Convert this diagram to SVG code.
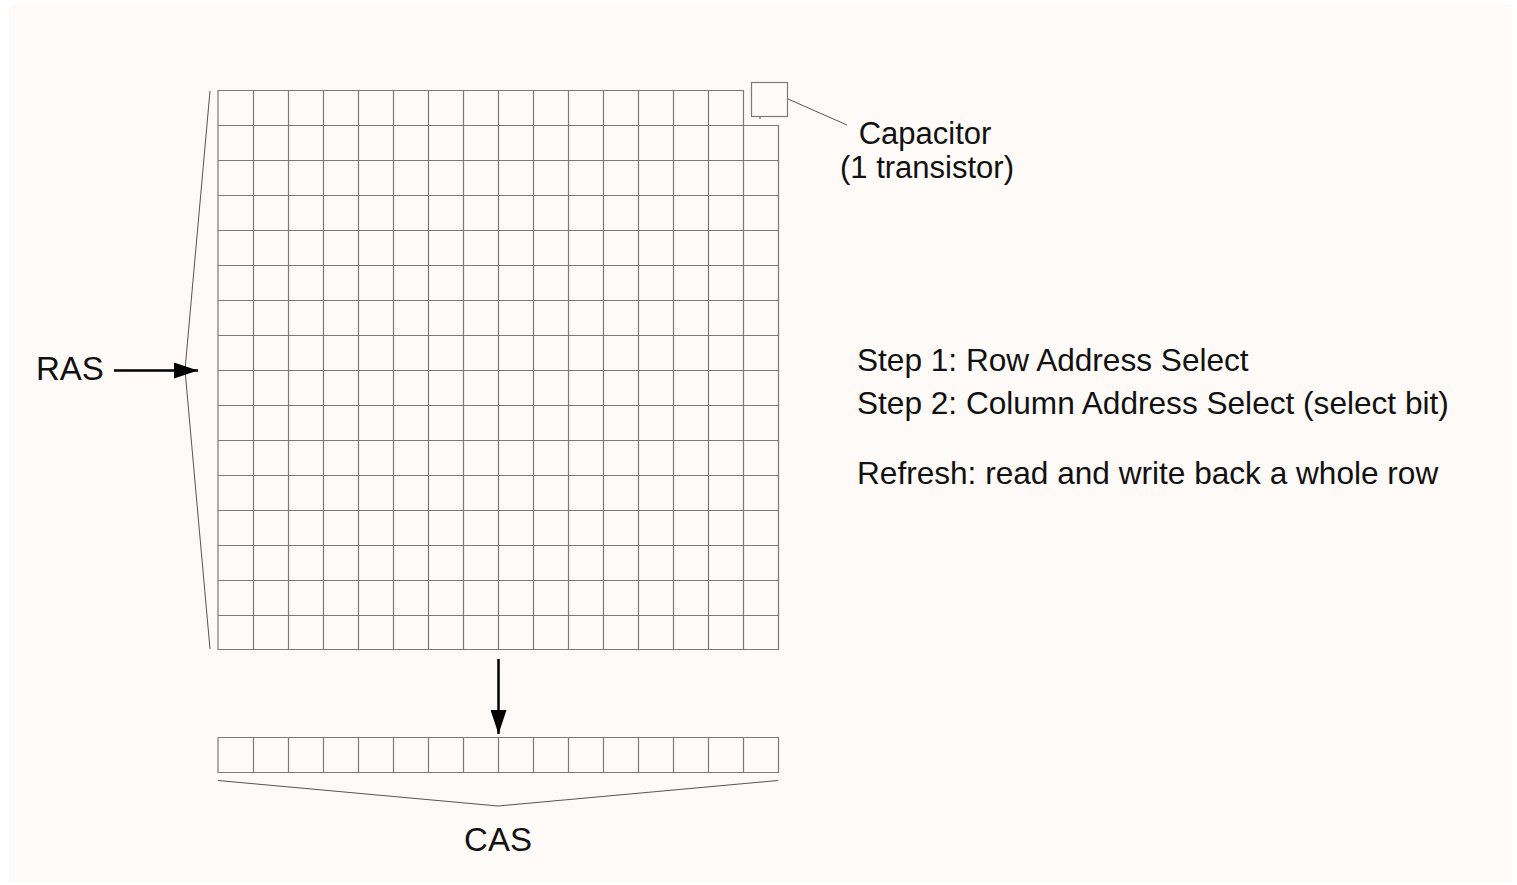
<svg xmlns="http://www.w3.org/2000/svg" width="1517" height="885" viewBox="0 0 1517 885">
<defs>
<style>
.grid{fill:none;stroke:#7a7a7a;stroke-width:1.2}
.thin{fill:none;stroke:#555;stroke-width:1}
.arr{fill:none;stroke:#000;stroke-width:2.5}
.t{font-family:"Liberation Sans",Arial,sans-serif;font-size:31px;fill:#111}
.s{font-size:31.6px}
.big{font-size:33px}
</style>
<marker id="ah2" viewBox="0 0 24 16" refX="24" refY="8" markerWidth="24" markerHeight="16" orient="auto" markerUnits="userSpaceOnUse">
<path d="M0,0 L24,8 L0,16 Z" fill="#000"/>
</marker>
</defs>
<rect x="0" y="0" width="1517" height="885" fill="#ffffff"/>
<rect x="9" y="5" width="1503" height="877" fill="#fefaf8"/>
<g id="memory-array">
<path class="grid" d="M218,90.5H743.5V125.5H778.5V649.5H218Z"/>
<path class="grid" d="M218,125.5H743.5M218,160.5H778.5M218,195.5H778.5M218,230.5H778.5M218,265.5H778.5M218,300.5H778.5M218,335.5H778.5M218,370.5H778.5M218,405.5H778.5M218,440.5H778.5M218,475.5H778.5M218,510.5H778.5M218,545.5H778.5M218,580.5H778.5M218,615.5H778.5"/>
<path class="grid" d="M253.5,90.5V649.5M288.5,90.5V649.5M323.5,90.5V649.5M358.5,90.5V649.5M393.5,90.5V649.5M428.5,90.5V649.5M463.5,90.5V649.5M498.5,90.5V649.5M533.5,90.5V649.5M568.5,90.5V649.5M603.5,90.5V649.5M638.5,90.5V649.5M673.5,90.5V649.5M708.5,90.5V649.5M743.5,125.5V649.5"/>
</g>
<g id="capacitor">
<rect class="grid" x="751.5" y="82.5" width="36" height="34"/>
<path class="thin" d="M760,116.5V119"/>
<text class="t" x="925" y="144" text-anchor="middle">Capacitor</text>
<text class="t" x="927" y="178" text-anchor="middle">(1 transistor)</text>
</g>
<g id="row-buffer">
<path class="grid" d="M218,737.5H778.5V772.5H218Z"/>
<path class="grid" d="M253.5,737.5V772.5M288.5,737.5V772.5M323.5,737.5V772.5M358.5,737.5V772.5M393.5,737.5V772.5M428.5,737.5V772.5M463.5,737.5V772.5M498.5,737.5V772.5M533.5,737.5V772.5M568.5,737.5V772.5M603.5,737.5V772.5M638.5,737.5V772.5M673.5,737.5V772.5M708.5,737.5V772.5M743.5,737.5V772.5"/>
</g>
<g id="ras">
<text class="t big" x="36" y="380">RAS</text>
</g>
<g id="cas">
<text class="t big" x="498" y="851" text-anchor="middle">CAS</text>
</g>
<g id="notes">
<text class="t s" x="857" y="371">Step 1: Row Address Select</text>
<text class="t s" x="857" y="414">Step 2: Column Address Select (select bit)</text>
<text class="t s" x="857" y="484">Refresh: read and write back a whole row</text>
</g>
<g id="connectors">
<path class="thin" d="M788,99L847,125"/>
<path class="thin" d="M210,91L185,370L210,649"/>
<path class="thin" d="M218,780.5L498,806L778,780.5"/>
<path class="arr" d="M114,370.5H198" marker-end="url(#ah2)"/>
<path class="arr" d="M498.5,659V734" marker-end="url(#ah2)"/>
</g>
</svg>
